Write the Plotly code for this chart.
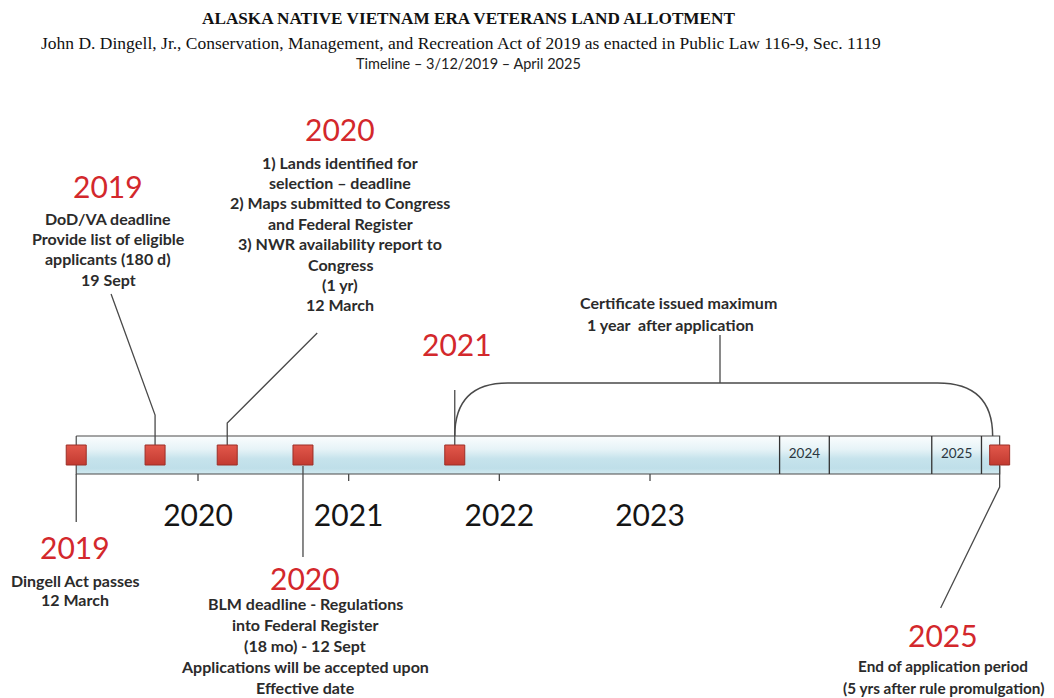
import plotly.graph_objects as go
from datetime import date

# ---------------- data ----------------
event_dates = ["2019-03-12", "2019-09-19", "2020-03-12", "2020-09-12", "2021-09-15", "2025-04-28"]
event_years = ["2019", "2019", "2020", "2020", "2021", "2025"]
event_notes = [
    ["Dingell Act passes", "12 March"],
    ["DoD/VA deadline", "Provide list of eligible", "applicants (180 d)", "19 Sept"],
    ["1) Lands identified for", "selection \u2013 deadline", "2) Maps submitted to Congress",
     "and Federal Register", "3) NWR availability report to", "Congress", "(1 yr)", "12 March"],
    ["BLM deadline - Regulations", "into Federal Register", "(18 mo) - 12 Sept",
     "Applications will be accepted upon", "Effective date"],
    [],
    ["End of application period", "(5 yrs after rule promulgation)"],
]
axis_years = [2020, 2021, 2022, 2023]
box_labels = ["2024", "2025"]
box_starts = [2023.86, 2024.87]
box_ends = [2024.19, 2025.20]
span_note = ["Certificate issued maximum", "1 year  after application"]
title_lines = [
    "ALASKA NATIVE VIETNAM ERA VETERANS LAND ALLOTMENT",
    "John D. Dingell, Jr., Conservation, Management, and Recreation Act of 2019 as enacted in Public Law 116-9, Sec. 1119",
    "Timeline \u2013 3/12/2019 \u2013 April 2025",
]

# ---------------- helpers ----------------
W, H = 1054, 698
PAD = 8                 # page body margin around the figure
PPY = 150.67            # pixels per year on the timeline
X0 = 2020 - 198 / PPY   # left edge of the page in years


def dec(s):
    d = date.fromisoformat(s)
    a = date(d.year, 1, 1)
    b = date(d.year + 1, 1, 1)
    return d.year + (d - a).days / (b - a).days


def off(px):            # pixel offset -> years
    return px / PPY


def P(px):              # page pixel -> years (for text placement)
    return X0 + px / PPY


ev = [dec(s) for s in event_dates]

BAR_TOP, BAR_BOT = 436, 474
LINE = "#4a4a4a"
RED = "#d3282c"
TXT = "#2b2b2b"
SANS = "Lato"
NOTE = 16

fig = go.Figure()

# timeline bar (gradient band)
fig.add_trace(go.Scatter(
    x=[ev[0], ev[-1], ev[-1], ev[0], ev[0]],
    y=[BAR_TOP, BAR_TOP, BAR_BOT, BAR_BOT, BAR_TOP],
    mode="lines", fill="toself",
    fillgradient=dict(type="vertical", start=BAR_TOP, stop=BAR_BOT,
                      colorscale=[[0, "#fbfdfe"], [0.35, "#e6f3f7"], [0.6, "#c6e3ec"],
                                  [0.85, "#bfdfe9"], [1, "#d3eaf0"]]),
    line=dict(color=LINE, width=1.2), hoverinfo="skip", showlegend=False))

# year boxes inside bar
bx, by = [], []
for s, e in zip(box_starts, box_ends):
    bx += [s, s, None, e, e, None]
    by += [BAR_TOP, BAR_BOT, None, BAR_TOP, BAR_BOT, None]
fig.add_trace(go.Scatter(x=bx, y=by, mode="lines", line=dict(color="#333333", width=1.3),
                         hoverinfo="skip", showlegend=False))
fig.add_trace(go.Scatter(x=[(s + e) / 2 for s, e in zip(box_starts, box_ends)],
                         y=[(BAR_TOP + BAR_BOT) / 2] * len(box_labels),
                         mode="text", text=box_labels,
                         textfont=dict(family=SANS, size=13.5, color="#2a3640"),
                         hoverinfo="skip", showlegend=False))

# axis ticks and labels
tx, ty = [], []
for yv in axis_years:
    tx += [yv, yv, None]
    ty += [BAR_BOT, BAR_BOT + 7, None]
fig.add_trace(go.Scatter(x=tx, y=ty, mode="lines", line=dict(color=LINE, width=1.3),
                         hoverinfo="skip", showlegend=False))
fig.add_trace(go.Scatter(x=axis_years, y=[518] * len(axis_years), mode="text",
                         text=[str(v) for v in axis_years],
                         textfont=dict(family=SANS, size=30, color="#151515"),
                         hoverinfo="skip", showlegend=False))

# connectors (pixel offsets are styling)
conn = [
    [(ev[0], BAR_BOT), (ev[0], 522)],
    [(ev[1], 445), (ev[1], 415), (ev[1] - off(44), 294)],
    [(ev[2], 445), (ev[2], 423), (ev[2] + off(90), 333)],
    [(ev[3], 466), (ev[3], 557)],
    [(ev[4], 445), (ev[4], 390)],
    [(ev[5], 466), (ev[5], 487), (ev[5] - off(59), 608)],
]
cx, cy = [], []
for c in conn:
    for p in c:
        cx.append(p[0]); cy.append(p[1])
    cx.append(None); cy.append(None)
fig.add_trace(go.Scatter(x=cx, y=cy, mode="lines", line=dict(color=LINE, width=1.3),
                         hoverinfo="skip", showlegend=False))

# bracket: application period -> certificate
L0, R0 = ev[4], ev[5] - off(7)
TOPY = 383
path = (f"M {L0},{BAR_TOP} Q {L0},{TOPY} {L0 + off(53)},{TOPY} "
        f"L {R0 - off(55)},{TOPY} Q {R0},{TOPY} {R0},{BAR_TOP}")
fig.add_shape(type="path", path=path, xref="x", yref="y",
              line=dict(color=LINE, width=1.5))
MID = P(720)
fig.add_trace(go.Scatter(x=[MID, MID], y=[TOPY, 335], mode="lines",
                         line=dict(color=LINE, width=1.3), hoverinfo="skip", showlegend=False))

# event markers
fig.add_trace(go.Scatter(x=ev, y=[455] * len(ev), mode="markers",
                         marker=dict(symbol="square", size=20, color="#e2584b",
                                     gradient=dict(type="vertical", color="#c23a30"),
                                     line=dict(color="#9c2f27", width=1)),
                         hoverinfo="skip", showlegend=False))

# ---------------- text ----------------
ann = []


def txt(x, y, s, size, color=TXT, fam=SANS, weight="bold"):
    ann.append(dict(x=x, y=y, xref="x", yref="y", text=s, showarrow=False,
                    xanchor="center", yanchor="middle",
                    font=dict(family=fam, size=size, color=color, weight=weight)))


label_place = [  # (center px, year y, first note y, line step, note size)
    (75, 547, 580, 19.5, NOTE),
    (108, 186, 218, 20.4, NOTE),
    (340, 129, 162, 20.4, NOTE),
    (305, 578, 603, 21, NOTE),
    (457, 344, 0, 0, NOTE),
    (943, 635, 666, 22, 15.3),
]
for yr, notes, (px, yy, ny, dy, fs) in zip(event_years, event_notes, label_place):
    txt(P(px), yy, yr, 30, RED, weight="normal")
    for i, line in enumerate(notes):
        txt(P(px), ny + i * dy, line, fs)

txt(P(678), 302, span_note[0], NOTE)
txt(P(670), 324, span_note[1], NOTE)

txt(P(468), 18, title_lines[0], 17.2, "#111111", "Liberation Serif", "bold")
txt(P(461), 43, title_lines[1], 17.5, "#111111", "Liberation Serif", "normal")
txt(P(468), 63, title_lines[2], 14.5, "#222222", SANS, "normal")

fig.update_layout(
    width=W, height=H, margin=dict(l=0, r=0, t=0, b=0),
    paper_bgcolor="white", plot_bgcolor="white",
    xaxis=dict(range=[X0 + PAD / PPY, X0 + (W + PAD) / PPY], visible=False, fixedrange=True),
    yaxis=dict(range=[H + PAD, PAD], visible=False, fixedrange=True),
    annotations=ann, showlegend=False,
)
fig.write_html("out.html")
